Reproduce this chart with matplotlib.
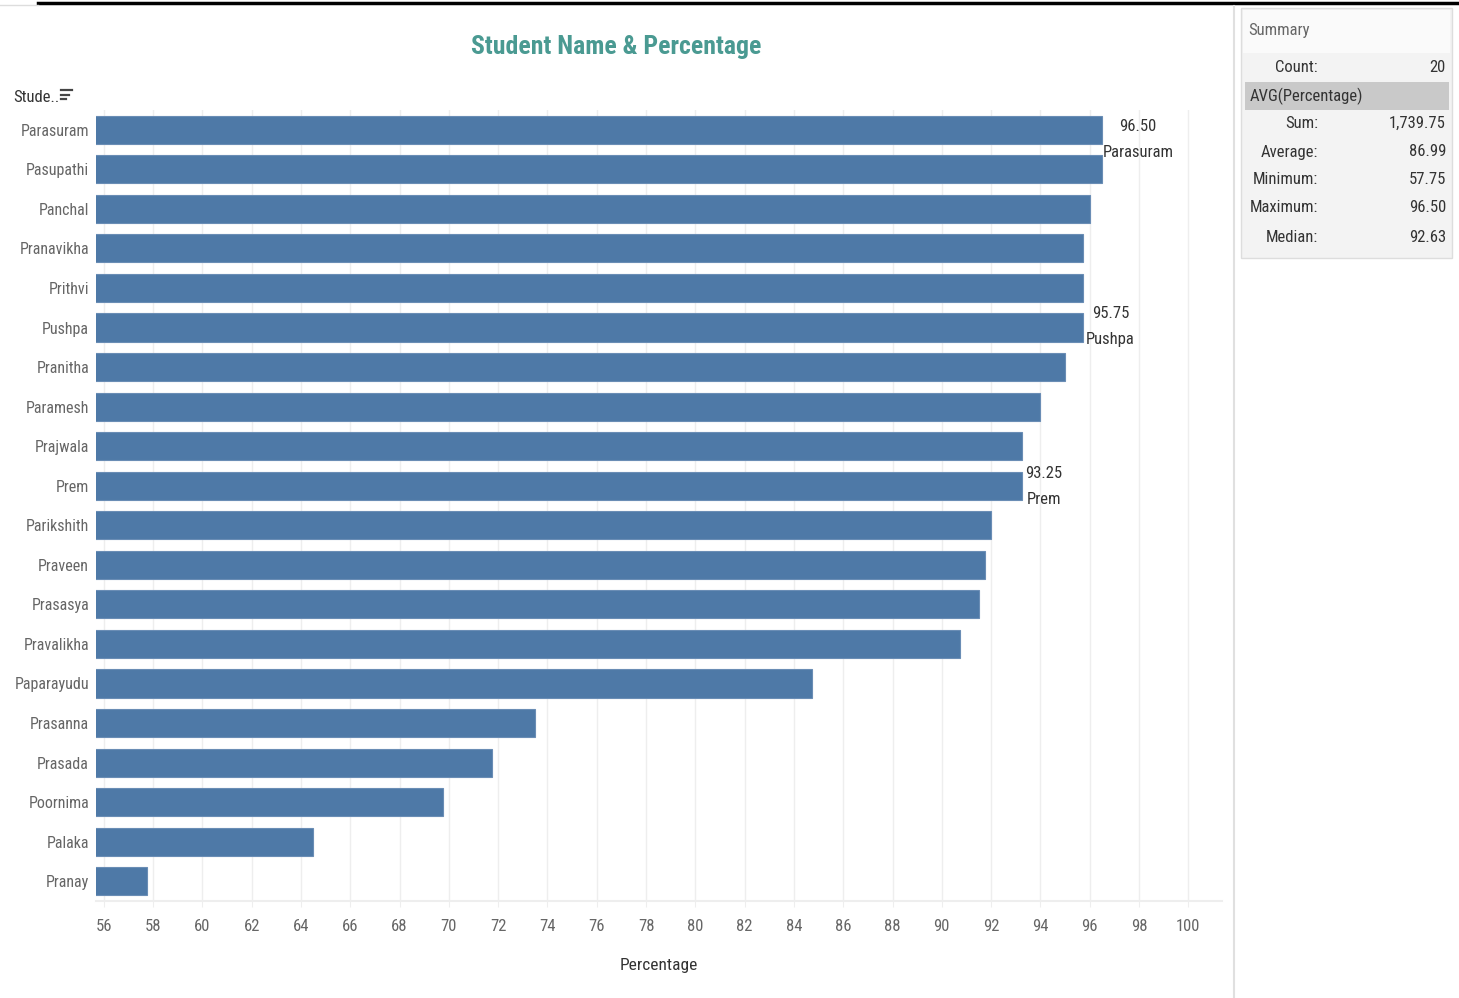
import matplotlib.pyplot as plt
from matplotlib import font_manager
from matplotlib.lines import Line2D
from matplotlib.patches import Rectangle

# data, sorted as in the reference (highest on top)
students = ["Parasuram", "Pasupathi", "Panchal", "Pranavikha", "Prithvi", "Pushpa",
            "Pranitha", "Paramesh", "Prajwala", "Prem", "Parikshith", "Praveen",
            "Prasasya", "Pravalikha", "Paparayudu", "Prasanna", "Prasada",
            "Poornima", "Palaka", "Pranay"]
percentage = [96.5, 96.5, 96.0, 95.75, 95.75, 95.75, 95.0, 94.0, 93.25, 93.25,
              92.0, 91.75, 91.5, 90.75, 84.75, 73.5, 71.75, 69.75, 64.5, 57.75]
x_ticks = list(range(56, 101, 2))

# labelled marks: (student, pixel offset x, pixel offset y)
labelled = [("Parasuram", 36, -10), ("Pushpa", 27, 1), ("Prem", 22, -1)]

summary_rows = [("Count:", "20"), ("Sum:", "1,739.75"), ("Average:", "86.99"),
                ("Minimum:", "57.75"), ("Maximum:", "96.50"), ("Median:", "92.63")]

# pick a narrow font if one is present
have = {f.name for f in font_manager.fontManager.ttflist}
narrow = [n for n in ["Roboto Condensed", "Abel", "Liberation Sans Narrow"] if n in have]
font = narrow[:1] + ["DejaVu Sans"]
plt.rcParams["font.family"] = font

W, H = 1459, 998
fig = plt.figure(figsize=(W / 100, H / 100), dpi=100)

def fx(px):
    return px / W

def fy(py):
    return 1 - py / H

ax = fig.add_axes([fx(96), fy(901), fx(1222) - fx(96), fy(110) - fy(901)])

bar_color = "#4e79a7"
pos = list(range(len(students)))
ax.barh(pos, percentage, height=0.71, color=bar_color, edgecolor="#6a8db5", linewidth=0.8,
        zorder=2)
ax.set_xlim(55.68, 101.37)
ax.set_ylim(len(students) - 0.5, -0.5)

ax.set_yticks(pos)
ax.set_yticklabels(students, fontsize=11.5, color="#666666")
ax.set_xticks(x_ticks)
ax.set_xticklabels([str(t) for t in x_ticks], fontsize=12, color="#666666")
ax.tick_params(axis="y", length=0, pad=5)
ax.tick_params(axis="x", length=4, color="#eeeeee", pad=9)
ax.grid(axis="x", color="#eeeeee", linewidth=1, zorder=0)
for s in ["top", "left", "right"]:
    ax.spines[s].set_visible(False)
ax.spines["bottom"].set_color("#eeeeee")
ax.spines["bottom"].set_linewidth(1.5)

ax.set_xlabel("Percentage", fontsize=12.5, color="#333333", labelpad=17)

for name, dx, dy in labelled:
    i = students.index(name)
    v = percentage[i]
    ax.annotate(f"{v:.2f}\n{name}", xy=(v, i), xytext=(dx, dy), textcoords="offset pixels",
                ha="center", va="center", fontsize=12, color="#333333", linespacing=1.95)

# title
fig.text(fx(616), fy(47), "Student Name & Percentage", ha="center", va="center",
         fontsize=18.5, fontweight="bold", color="#4a9a92")

# row header with sort icon
fig.text(fx(13), fy(97), "Stude..", ha="left", va="center", fontsize=12, color="#333333")
for k, ln in enumerate([11, 8, 5]):
    yy = fy(90 + k * 4.5)
    fig.add_artist(Line2D([fx(61), fx(61 + ln)], [yy, yy], color="#444444", lw=1.6))

# frame lines
fig.add_artist(Line2D([fx(38), fx(W)], [fy(3), fy(3)], color="black", lw=2.5))
fig.add_artist(Line2D([0, fx(38)], [fy(5), fy(5)], color="#dddddd", lw=1))
fig.add_artist(Line2D([fx(1234), fx(1234)], [fy(6), 0], color="#e0e0e0", lw=1.5))

# summary card
fig.add_artist(Rectangle((fx(1241), fy(258)), fx(1452) - fx(1241), fy(8) - fy(258),
                         facecolor="#f3f3f3", edgecolor="#dddddd", lw=1))
fig.add_artist(Rectangle((fx(1243), fy(53)), fx(1450) - fx(1243), fy(10) - fy(53),
                         facecolor="#fafafa", edgecolor="none"))
fig.add_artist(Rectangle((fx(1245), fy(110)), fx(1449) - fx(1245), fy(82) - fy(110),
                         facecolor="#c9c9c9", edgecolor="none"))
fig.text(fx(1248), fy(30), "Summary", ha="left", va="center", fontsize=12, color="#666666")
fig.text(fx(1250), fy(96), "AVG(Percentage)", ha="left", va="center", fontsize=12,
         color="#333333")
row_y = [67, 123, 152, 180, 208, 237]
for (lab, val), yy in zip(summary_rows, row_y):
    fig.text(fx(1318), fy(yy), lab, ha="right", va="center", fontsize=12, color="#333333")
    fig.text(fx(1446), fy(yy), val, ha="right", va="center", fontsize=12, color="#333333")

fig.savefig("out.png", dpi=100)
